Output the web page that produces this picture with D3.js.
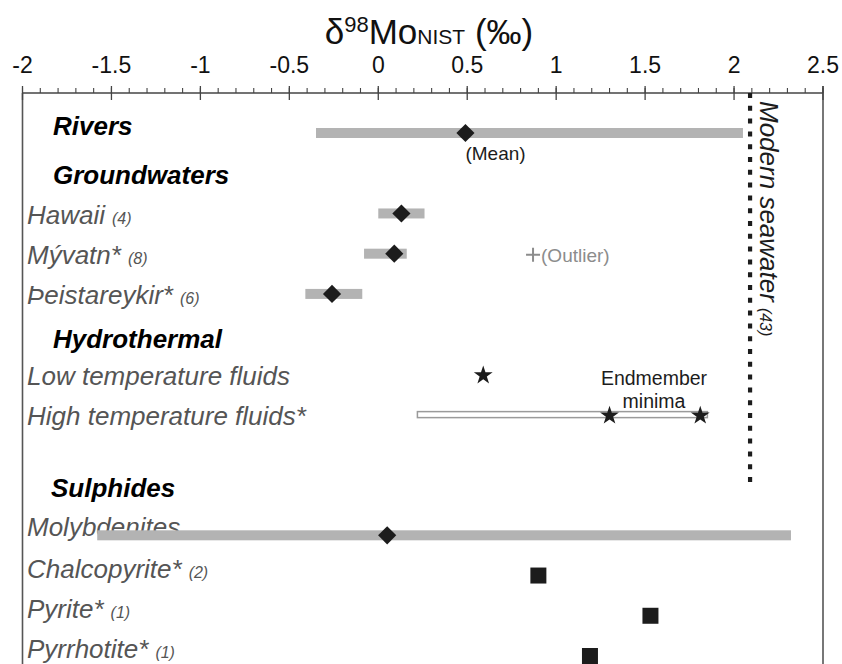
<!DOCTYPE html>
<html>
<head>
<meta charset="utf-8">
<script src="https://cdn.jsdelivr.net/npm/d3@7"></script>
<style>
  body { margin: 0; background: #fff; }
  svg { font-family: "Liberation Sans", Arial, sans-serif; }
</style>
</head>
<body>
<svg id="chart" width="842" height="664"></svg>
<script>
// rows, top to bottom ("" is an empty spacer row)
const rowKeys = ["Rivers", "Groundwaters", "Hawaii", "Mývatn", "Þeistareykir", "Hydrothermal",
  "Low", "High", "", "Sulphides", "Molybdenites", "Chalcopyrite", "Pyrite", "Pyrrhotite"];
const headerRows = ["Rivers", "Groundwaters", "Hydrothermal", "Sulphides"];
const labelRows = ["Hawaii", "Mývatn", "Þeistareykir", "Low", "High", "Molybdenites", "Chalcopyrite", "Pyrite", "Pyrrhotite"];
const labelText = ["Hawaii", "Mývatn*", "Þeistareykir*", "Low temperature fluids", "High temperature fluids*",
  "Molybdenites", "Chalcopyrite*", "Pyrite*", "Pyrrhotite*"];
const labelCount = ["(4)", "(8)", "(6)", "", "", "", "(2)", "(1)", "(1)"];

// grey ranges
const rangeRows = ["Rivers", "Hawaii", "Mývatn", "Þeistareykir", "Molybdenites"];
const rangeLo = [-0.35, 0.0, -0.08, -0.41, -1.58];
const rangeHi = [2.05, 0.26, 0.16, -0.09, 2.32];
// mean values (diamonds)
const meanRows = ["Rivers", "Hawaii", "Mývatn", "Þeistareykir", "Molybdenites"];
const meanVals = [0.49, 0.13, 0.09, -0.26, 0.05];
// high temperature fluid range (open bar)
const openRows = ["High"];
const openLo = [0.22];
const openHi = [1.85];
// stars
const starRows = ["Low", "High", "High"];
const starVals = [0.59, 1.30, 1.81];
// squares
const squareRows = ["Chalcopyrite", "Pyrite", "Pyrrhotite"];
const squareVals = [0.90, 1.53, 1.19];
// outlier
const outlierRow = "Mývatn";
const outlierVal = 0.87;
// modern seawater
const seawater = 2.09;

const xTicks = [-2, -1.5, -1, -0.5, 0, 0.5, 1, 1.5, 2, 2.5];

const svg = d3.select("#chart");
const x = d3.scaleLinear().domain([-2, 2.5]).range([22.5, 823]);
const y = d3.scalePoint().domain(rowKeys).range([133, 656]);
const axisY = 93;
const ink = "#1c1c1c";

// title
const title = svg.append("text").attr("x", 429).attr("y", 44)
  .attr("text-anchor", "middle").attr("fill", "#111").style("font-size", "35px");
title.append("tspan").text("δ");
title.append("tspan").attr("dy", -12).style("font-size", "22px").text("98");
title.append("tspan").attr("dy", 12).text("Mo");
title.append("tspan").style("font-size", "21px").text("NIST");
title.append("tspan").text(" (‰)");

// frame
const frameBottom = 700;
svg.append("line").attr("x1", x(-2)).attr("x2", x(-2)).attr("y1", axisY).attr("y2", frameBottom)
  .attr("stroke", "#555").attr("stroke-width", 1.6);
svg.append("line").attr("x1", x(2.5)).attr("x2", x(2.5)).attr("y1", 86).attr("y2", frameBottom)
  .attr("stroke", "#555").attr("stroke-width", 1.6);
svg.append("line").attr("x1", x(-2)).attr("x2", x(2.5)).attr("y1", axisY).attr("y2", axisY)
  .attr("stroke", "#444").attr("stroke-width", 1.3);

// minor ticks
svg.selectAll(".minor").data(x.ticks(45)).join("line").attr("class", "minor")
  .attr("x1", d => x(d)).attr("x2", d => x(d)).attr("y1", axisY - 5).attr("y2", axisY)
  .attr("stroke", "#444").attr("stroke-width", 1.1);
// major ticks
svg.selectAll(".major").data(xTicks).join("line").attr("class", "major")
  .attr("x1", d => x(d)).attr("x2", d => x(d)).attr("y1", axisY - 7).attr("y2", axisY + 7)
  .attr("stroke", "#444").attr("stroke-width", 1.3);
svg.selectAll(".tlab").data(xTicks).join("text").attr("class", "tlab")
  .attr("x", d => x(d)).attr("y", 73).attr("text-anchor", "middle")
  .attr("fill", "#111").style("font-size", "23px").text(d => d);

// modern seawater dotted line
svg.append("line").attr("x1", x(seawater)).attr("x2", x(seawater))
  .attr("y1", axisY).attr("y2", y("") + 28)
  .attr("stroke", ink).attr("stroke-width", 4.2).attr("stroke-dasharray", "5,7.8");
const sw = svg.append("text").attr("transform", `translate(${x(seawater) + 10},101) rotate(90)`)
  .attr("fill", ink).style("font-size", "26px").style("font-style", "italic");
sw.append("tspan").text("Modern seawater");
sw.append("tspan").attr("dx", 6).style("font-size", "16px").text("(43)");

// small vertical shifts of label text relative to their rows
const shift = r => (r === "Rivers" || r === "Sulphides") ? -7 :
  r === "Molybdenites" ? -9 :
  (["Chalcopyrite", "Pyrite", "Pyrrhotite"].includes(r) ? -7 : (r === "Hydrothermal" ? 4 : 1));

// headers
svg.selectAll(".hdr").data(headerRows).join("text").attr("class", "hdr")
  .attr("x", d => d === "Sulphides" ? 51 : 53).attr("y", d => y(d) + shift(d)).attr("dy", "0.36em")
  .attr("fill", "#000").style("font-size", "26px").style("font-weight", "bold").style("font-style", "italic")
  .text(d => d);

// category labels
const labs = svg.selectAll(".lab").data(labelRows).join("text").attr("class", "lab")
  .attr("x", 27).attr("y", d => y(d) + shift(d)).attr("dy", "0.36em")
  .attr("fill", "#555").style("font-size", "26px").style("font-style", "italic");
labs.append("tspan").text((d, i) => labelText[i]);
labs.append("tspan").attr("dx", 7).style("font-size", "16px").text((d, i) => labelCount[i]);

// grey ranges
svg.selectAll(".range").data(rangeRows).join("rect").attr("class", "range")
  .attr("x", (d, i) => x(rangeLo[i])).attr("width", (d, i) => x(rangeHi[i]) - x(rangeLo[i]))
  .attr("y", d => y(d) - 5).attr("height", 10).attr("fill", "#b3b3b3");

// open range
svg.selectAll(".open").data(openRows).join("rect").attr("class", "open")
  .attr("x", (d, i) => x(openLo[i])).attr("width", (d, i) => x(openHi[i]) - x(openLo[i]))
  .attr("y", d => y(d) - 3).attr("height", 6).attr("fill", "#fff")
  .attr("stroke", "#9a9a9a").attr("stroke-width", 1.5);

// diamonds
const diamond = d3.symbol(d3.symbolSquare, 165);
svg.selectAll(".mean").data(meanRows).join("path").attr("class", "mean")
  .attr("d", diamond)
  .attr("transform", (d, i) => `translate(${x(meanVals[i])},${y(d)}) rotate(45)`)
  .attr("fill", ink);

// stars
const star = d3.symbol(d3.symbolStar, 110);
svg.selectAll(".star").data(starRows).join("path").attr("class", "star")
  .attr("d", star)
  .attr("transform", (d, i) => `translate(${x(starVals[i])},${y(d) + 1})`)
  .attr("fill", ink);

// squares
const square = d3.symbol(d3.symbolSquare, 256);
svg.selectAll(".sq").data(squareRows).join("path").attr("class", "sq")
  .attr("d", square)
  .attr("transform", (d, i) => `translate(${x(squareVals[i])},${y(d)})`)
  .attr("fill", ink);

// outlier
const ox = x(outlierVal), oy = y(outlierRow) + 1;
svg.append("path").attr("d", `M${ox - 7},${oy}H${ox + 7}M${ox},${oy - 7}V${oy + 7}`)
  .attr("stroke", "#8c8c8c").attr("stroke-width", 2);
svg.append("text").attr("x", ox + 8).attr("y", oy).attr("dy", "0.36em")
  .attr("fill", "#8c8c8c").style("font-size", "19px").text("(Outlier)");

// annotations
svg.append("text").attr("x", x(meanVals[0])).attr("y", y("Rivers") + 20).attr("dy", "0.36em")
  .attr("fill", ink).style("font-size", "19px").text("(Mean)");
const em = svg.append("text").attr("x", 654).attr("y", 378).attr("dy", "0.36em")
  .attr("text-anchor", "middle").attr("fill", ink).style("font-size", "19.5px");
em.append("tspan").attr("x", 654).text("Endmember");
em.append("tspan").attr("x", 654).attr("dy", 23).text("minima");
</script>
</body>
</html>
